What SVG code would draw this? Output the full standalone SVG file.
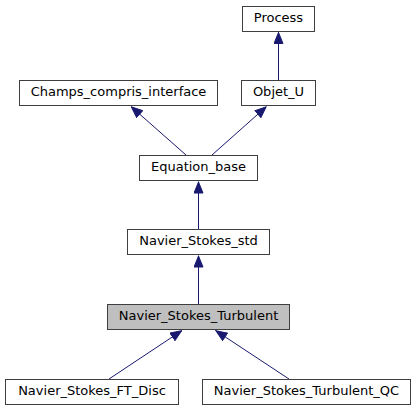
<svg xmlns="http://www.w3.org/2000/svg" width="416" height="411" viewBox="0 0 416 411">
<defs>
<style>
.box{fill:#ffffff;stroke:#3f3f3f;stroke-width:1}
.cur{fill:#bfbfbf;stroke:#3f3f3f;stroke-width:1}
.lbl{font-family:"DejaVu Sans",sans-serif;font-size:13px;fill:#000000;text-anchor:middle}
.edge{stroke:#191970;stroke-width:1;fill:none;marker-end:url(#ah)}
</style>
<marker id="ah" viewBox="0 0 12 10" refX="12" refY="5" markerWidth="12" markerHeight="10" markerUnits="userSpaceOnUse" orient="auto">
<path d="M0.5,0.5 L11.5,5 L0.5,9.5 z" fill="#191970" stroke="#191970" stroke-width="1"/>
</marker>
</defs>
<rect width="416" height="411" fill="#ffffff"/>
<g id="connectors">
<line class="edge" x1="278.5" y1="80" x2="278.5" y2="32"/>
<line class="edge" x1="212" y1="155" x2="266.5" y2="106.5"/>
<line class="edge" x1="186" y1="155" x2="131" y2="106.5"/>
<line class="edge" x1="198.5" y1="229" x2="198.5" y2="181.5"/>
<line class="edge" x1="198.5" y1="304" x2="198.5" y2="255.5"/>
<line class="edge" x1="109" y1="379" x2="182" y2="330.5"/>
<line class="edge" x1="289" y1="379" x2="215.5" y2="330.5"/>
</g>
<g id="Process"><rect class="box" x="242.5" y="6.5" width="72" height="25"/><text class="lbl" x="278.5" y="22">Process</text></g>
<g id="Objet_U"><rect class="box" x="241.5" y="80.5" width="74" height="25"/><text class="lbl" x="278.5" y="96">Objet_U</text></g>
<g id="Champs_compris_interface"><rect class="box" x="19.5" y="80.5" width="198" height="25"/><text class="lbl" x="118.5" y="96">Champs_compris_interface</text></g>
<g id="Equation_base"><rect class="box" x="139.5" y="155.5" width="118" height="25"/><text class="lbl" x="198.5" y="171">Equation_base</text></g>
<g id="Navier_Stokes_std"><rect class="box" x="127.5" y="229.5" width="142" height="25"/><text class="lbl" x="198.5" y="245">Navier_Stokes_std</text></g>
<g id="Navier_Stokes_Turbulent"><rect class="cur" x="107.5" y="304.5" width="182" height="25"/><text class="lbl" x="198.5" y="320">Navier_Stokes_Turbulent</text></g>
<g id="Navier_Stokes_FT_Disc"><rect class="box" x="5.5" y="379.5" width="173" height="25"/><text class="lbl" x="92" y="395">Navier_Stokes_FT_Disc</text></g>
<g id="Navier_Stokes_Turbulent_QC"><rect class="box" x="202.5" y="379.5" width="208" height="25"/><text class="lbl" x="306.5" y="395">Navier_Stokes_Turbulent_QC</text></g>
</svg>
